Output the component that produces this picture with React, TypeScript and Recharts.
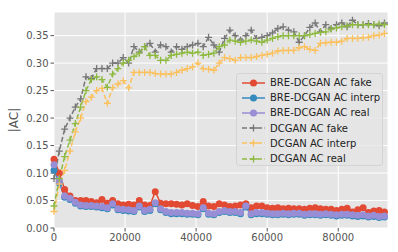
import { LineChart, Line, XAxis, YAxis, CartesianGrid } from 'recharts'

const STEPS = [
  0, 1500, 3000, 4500, 6000, 7500, 9000, 10500, 12000, 13500, 15000, 16500, 18000, 19500, 21000,
  22500, 24000, 25500, 27000, 28500, 30000, 31500, 33000, 34500, 36000, 37500, 39000, 40500, 42000,
  43500, 45000, 46500, 48000, 49500, 51000, 52500, 54000, 55500, 57000, 58500, 60000, 61500, 63000,
  64500, 66000, 67500, 69000, 70500, 72000, 73500, 75000, 76500, 78000, 79500, 81000, 82500, 84000,
  85500, 87000, 88500, 90000, 91500, 93000,
]

const BRE_FAKE = [
  0.125, 0.1, 0.07, 0.058, 0.05, 0.05, 0.05, 0.048, 0.046, 0.052, 0.045, 0.05, 0.044, 0.042, 0.043,
  0.042, 0.05, 0.042, 0.041, 0.066, 0.045, 0.044, 0.044, 0.043, 0.042, 0.044, 0.041, 0.039, 0.048,
  0.04, 0.039, 0.044, 0.042, 0.039, 0.04, 0.042, 0.044, 0.037, 0.04, 0.04, 0.037, 0.036, 0.037,
  0.035, 0.036, 0.035, 0.035, 0.034, 0.036, 0.037, 0.035, 0.034, 0.034, 0.032, 0.034, 0.036, 0.029,
  0.033, 0.037, 0.028, 0.031, 0.032, 0.029,
]

const BRE_INTERP = [
  0.105, 0.082, 0.056, 0.052, 0.045, 0.04, 0.039, 0.039, 0.038, 0.037, 0.035, 0.042, 0.033, 0.032,
  0.031, 0.03, 0.038, 0.03, 0.032, 0.044, 0.033, 0.028, 0.026, 0.026, 0.026, 0.025, 0.025, 0.024,
  0.035, 0.025, 0.024, 0.028, 0.03, 0.028, 0.028, 0.026, 0.038, 0.024, 0.026, 0.026, 0.025, 0.024,
  0.024, 0.025, 0.024, 0.025, 0.025, 0.023, 0.024, 0.024, 0.023, 0.024, 0.023, 0.022, 0.023, 0.023,
  0.022, 0.021, 0.022, 0.02, 0.021, 0.019, 0.02,
]

const BRE_REAL = [
  0.115, 0.085, 0.058, 0.054, 0.047, 0.042, 0.041, 0.041, 0.04, 0.039, 0.037, 0.044, 0.035, 0.034,
  0.033, 0.032, 0.04, 0.032, 0.034, 0.046, 0.035, 0.03, 0.028, 0.028, 0.028, 0.027, 0.027, 0.026,
  0.037, 0.027, 0.026, 0.03, 0.032, 0.03, 0.03, 0.028, 0.04, 0.026, 0.028, 0.028, 0.027, 0.026,
  0.026, 0.027, 0.026, 0.027, 0.027, 0.025, 0.026, 0.026, 0.025, 0.026, 0.025, 0.024, 0.025, 0.025,
  0.024, 0.023, 0.024, 0.022, 0.023, 0.021, 0.022,
]

const DC_FAKE = [
  0.09, 0.14, 0.18, 0.2, 0.22, 0.235, 0.275, 0.272, 0.29, 0.29, 0.29, 0.3, 0.3, 0.31, 0.3, 0.33,
  0.32, 0.33, 0.336, 0.32, 0.333, 0.33, 0.32, 0.33, 0.325, 0.33, 0.333, 0.336, 0.33, 0.347, 0.333,
  0.32, 0.345, 0.36, 0.35, 0.342, 0.35, 0.36, 0.345, 0.347, 0.35, 0.355, 0.363, 0.366, 0.36, 0.357,
  0.338, 0.35, 0.365, 0.373, 0.357, 0.37, 0.363, 0.37, 0.373, 0.366, 0.378, 0.37, 0.37, 0.372, 0.37,
  0.368, 0.373,
]

const DC_INTERP = [
  0.03, 0.08, 0.105, 0.14, 0.175, 0.2, 0.23, 0.238, 0.25, 0.254, 0.227, 0.255, 0.262, 0.268, 0.255,
  0.283, 0.283, 0.283, 0.283, 0.281, 0.28, 0.28, 0.28, 0.283, 0.287, 0.29, 0.293, 0.3, 0.29, 0.289,
  0.287, 0.3, 0.31, 0.308, 0.305, 0.31, 0.31, 0.31, 0.312, 0.314, 0.316, 0.318, 0.322, 0.323, 0.323,
  0.323, 0.328, 0.33, 0.325, 0.323, 0.336, 0.337, 0.338, 0.338, 0.34, 0.345, 0.345, 0.345, 0.346,
  0.347, 0.35, 0.351, 0.354,
]

const DC_REAL = [
  0.04, 0.09, 0.13, 0.16, 0.19, 0.22, 0.25, 0.27, 0.275, 0.27, 0.256, 0.28, 0.29, 0.3, 0.305, 0.312,
  0.318, 0.33, 0.314, 0.314, 0.305, 0.305, 0.314, 0.316, 0.318, 0.32, 0.318, 0.32, 0.314, 0.316,
  0.318, 0.33, 0.333, 0.342, 0.34, 0.338, 0.34, 0.342, 0.34, 0.338, 0.342, 0.345, 0.348, 0.35, 0.35,
  0.35, 0.35, 0.35, 0.352, 0.354, 0.356, 0.357, 0.362, 0.364, 0.366, 0.368, 0.37, 0.37, 0.37, 0.37,
  0.37, 0.371, 0.37,
]

const X_TICKS = [0, 20000, 40000, 60000, 80000]
const Y_TICKS = [0, 0.05, 0.1, 0.15, 0.2, 0.25, 0.3, 0.35]

const SERIES = [
  { key: 'breFake', name: 'BRE-DCGAN AC fake', color: '#E24A33', kind: 'dot' },
  { key: 'breInterp', name: 'BRE-DCGAN AC interp', color: '#348ABD', kind: 'dot' },
  { key: 'breReal', name: 'BRE-DCGAN AC real', color: '#988ED5', kind: 'dot' },
  { key: 'dcFake', name: 'DCGAN AC fake', color: '#777777', kind: 'plus' },
  { key: 'dcInterp', name: 'DCGAN AC interp', color: '#FBC15E', kind: 'plus' },
  { key: 'dcReal', name: 'DCGAN AC real', color: '#8EBA42', kind: 'plus' },
]

const data = STEPS.map((s, i) => ({
  step: s,
  breFake: BRE_FAKE[i],
  breInterp: BRE_INTERP[i],
  breReal: BRE_REAL[i],
  dcFake: DC_FAKE[i],
  dcInterp: DC_INTERP[i],
  dcReal: DC_REAL[i],
}))

const FONT = 'DejaVu Sans, sans-serif'

const PlusDot = (props: any) => {
  const { cx, cy, stroke } = props
  if (cx == null || cy == null) return null
  return (
    <path
      d={`M${cx - 3.5},${cy}h7M${cx},${cy - 3.5}v7`}
      stroke={stroke}
      strokeWidth={1.3}
      fill="none"
    />
  )
}

// legend drawn as an overlay so it doesn't eat plot space
const LegendBox = () => (
  <div
    style={{
      position: 'absolute',
      left: 236,
      top: 73,
      width: 147,
      height: 93,
      background: 'rgba(229,229,229,0.8)',
      border: '1px solid #d4d4d4',
      borderRadius: 3,
      boxSizing: 'border-box',
      paddingTop: 1,
      fontFamily: FONT,
      fontSize: 10,
      color: '#222',
    }}
  >
    {SERIES.map((s) => (
      <div key={s.key} style={{ display: 'flex', alignItems: 'center', height: 15.2 }}>
        <svg width={30} height={12} style={{ marginLeft: 2 }}>
          <line
            x1={3}
            x2={26}
            y1={6}
            y2={6}
            stroke={s.color}
            strokeWidth={1.5}
            strokeDasharray={s.kind === 'plus' ? '5 2.5' : undefined}
          />
          {s.kind === 'dot' ? (
            <circle cx={14.5} cy={6} r={3.5} fill={s.color} />
          ) : (
            <path d="M11,6h7M14.5,2.5v7" stroke={s.color} strokeWidth={1.3} />
          )}
        </svg>
        <span style={{ marginLeft: 1, whiteSpace: 'nowrap' }}>{s.name}</span>
      </div>
    ))}
  </div>
)

export default function App() {
  return (
    <div style={{ position: 'absolute', left: 0, top: 0, width: 398, height: 252, background: '#fff' }}>
      <LineChart
        width={398}
        height={252}
        data={data}
        margin={{ top: 12, right: 10, left: 10, bottom: 0 }}
      >
        <CartesianGrid fill="#E5E5E5" stroke="#fff" strokeWidth={1} />
        <XAxis
          dataKey="step"
          type="number"
          domain={[0, 94000]}
          ticks={X_TICKS}
          height={24}
          axisLine={false}
          tickLine={{ stroke: '#555' }}
          tickSize={3.5}
          tick={{ fill: '#555', fontSize: 10, fontFamily: FONT }}
        />
        <YAxis
          type="number"
          domain={[0, 0.393]}
          ticks={Y_TICKS}
          width={44}
          axisLine={false}
          tickLine={{ stroke: '#555' }}
          tickSize={3.5}
          tickFormatter={(v: number) => v.toFixed(2)}
          tick={{ fill: '#555', fontSize: 10, fontFamily: FONT }}
          label={{
            value: '|AC|',
            angle: -90,
            position: 'insideLeft',
            offset: 0,
            dx: 4,
            style: { fill: '#555', fontSize: 12, fontFamily: FONT, textAnchor: 'middle' },
          }}
        />
        {SERIES.map((s) =>
          s.kind === 'dot' ? (
            <Line
              key={s.key}
              dataKey={s.key}
              name={s.name}
              stroke={s.color}
              strokeWidth={1.5}
              dot={{ r: 3.5, fill: s.color, stroke: 'none' }}
              isAnimationActive={false}
            />
          ) : (
            <Line
              key={s.key}
              dataKey={s.key}
              name={s.name}
              stroke={s.color}
              strokeWidth={1.5}
              strokeDasharray="5 2.5"
              dot={<PlusDot />}
              isAnimationActive={false}
            />
          )
        )}
      </LineChart>
      <LegendBox />
    </div>
  )
}
